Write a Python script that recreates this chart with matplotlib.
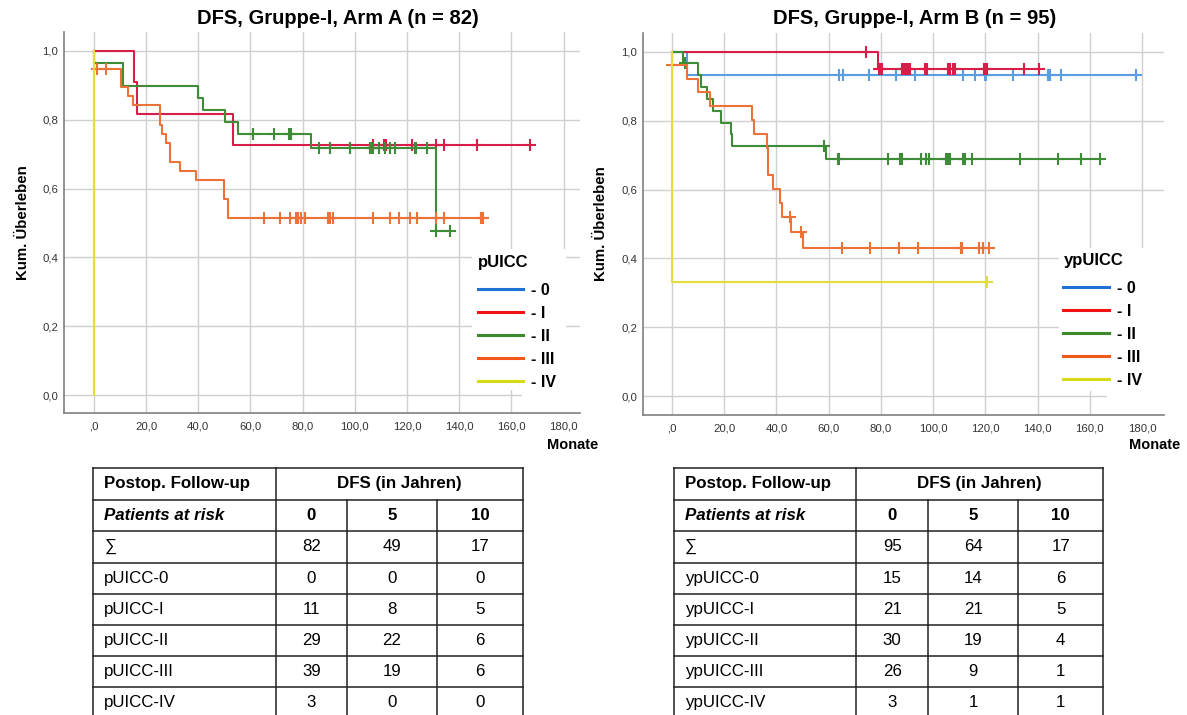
import numpy as np
import matplotlib
matplotlib.use("Agg")
import matplotlib.pyplot as plt
from matplotlib.lines import Line2D
from matplotlib.patches import Rectangle

plt.rcParams['font.family'] = ['Liberation Sans', 'DejaVu Sans']

W, H, DPI = 1187, 715, 100

# ---------------- data ----------------
stage_labels = ["- 0", "- I", "- II", "- III", "- IV"]
curve_colors = ["#5b9de3", "#d81d48", "#3f8c38", "#ec7238", "#e4dd3c"]
legend_colors = ["#1f72d4", "#f21414", "#3b8a2c", "#f2581a", "#d6da14"]

x_ticks = [0, 20, 40, 60, 80, 100, 120, 140, 160, 180]
x_tick_labels = [",0", "20,0", "40,0", "60,0", "80,0", "100,0", "120,0",
                 "140,0", "160,0", "180,0"]
y_ticks = [0.0, 0.2, 0.4, 0.6, 0.8, 1.0]
y_tick_labels = ["0,0", "0,2", "0,4", "0,6", "0,8", "1,0"]

# Arm A (pUICC): step times (months), survival after each step, censoring times
a0_t, a0_s, a0_c = [], [], []
a1_t = [15.4, 16.6, 53.5]
a1_s = [0.909, 0.818, 0.727]
a1_c = [106.8, 111.2, 111.8, 121.8, 131.0, 134.0, 146.8, 167.1]
a2_t = [0.0, 11.0, 39.9, 41.8, 50.3, 55.3, 83.1, 131.0]
a2_s = [0.966, 0.897, 0.862, 0.828, 0.793, 0.759, 0.717, 0.478]
a2_c = [61.0, 69.2, 74.9, 75.5, 86.3, 90.3, 98.1, 105.7, 106.4, 107.0, 109.2,
        111.5, 113.4, 115.5, 122.9, 123.6, 127.8, 131.2, 136.6]
a3_t = [0.0, 10.5, 13.2, 15.1, 25.3, 26.3, 27.6, 29.1, 33.0, 39.3, 49.8, 51.5]
a3_s = [0.949, 0.896, 0.870, 0.843, 0.786, 0.759, 0.732, 0.678, 0.651, 0.624,
        0.569, 0.515]
a3_c = [1.3, 4.6, 65.1, 71.3, 75.1, 77.4, 78.3, 79.2, 81.0, 89.6, 90.3, 91.8,
        106.8, 113.4, 116.8, 121.0, 123.8, 131.0, 134.0, 148.3, 148.9]
a4_t = [0.0]
a4_s = [0.0]
a4_c = []

# Arm B (ypUICC)
b0_t = [5.8]
b0_s = [0.933]
b0_c = [64.0, 65.3, 75.5, 85.6, 93.2, 111.4, 115.9, 120.0, 120.4, 130.6, 144.0,
        144.6, 149.1, 177.8]
b1_t = [78.8]
b1_s = [0.950]
b1_c = [74.3, 79.2, 79.8, 80.5, 88.0, 88.7, 89.6, 90.3, 91.2, 96.7, 97.6, 105.7,
        106.6, 107.6, 108.5, 119.5, 120.0, 120.5, 134.9, 140.4]
b2_t = [4.4, 10.1, 11.1, 13.3, 15.8, 18.6, 22.5, 22.9, 59.0]
b2_s = [0.967, 0.932, 0.898, 0.863, 0.829, 0.794, 0.760, 0.725, 0.689]
b2_c = [5.1, 58.2, 63.4, 64.0, 82.9, 87.4, 88.0, 95.5, 97.4, 98.3, 105.0, 105.5,
        106.0, 106.6, 111.4, 112.3, 114.9, 133.1, 147.7, 156.6, 163.8]
b3_t = [0.0, 5.6, 9.8, 14.7, 30.6, 31.3, 36.3, 36.9, 38.8, 41.4, 42.0, 45.6, 50.3]
b3_s = [0.962, 0.921, 0.882, 0.841, 0.801, 0.761, 0.721, 0.641, 0.601, 0.561,
        0.521, 0.478, 0.430]
b3_c = [0.0, 45.2, 49.3, 65.2, 76.0, 86.8, 94.4, 110.5, 111.2, 117.4, 119.2, 121.3]
b4_t = [0.0]
b4_s = [0.333]
b4_c = [120.8]

# Patients-at-risk tables
table_head = ["Postop. Follow-up", "DFS (in Jahren)"]
risk_head = ["Patients at risk", "0", "5", "10"]
rows_A = ["\u2211", "pUICC-0", "pUICC-I", "pUICC-II", "pUICC-III", "pUICC-IV"]
vals_A = [[82, 49, 17], [0, 0, 0], [11, 8, 5], [29, 22, 6], [39, 19, 6], [3, 0, 0]]
rows_B = ["\u2211", "ypUICC-0", "ypUICC-I", "ypUICC-II", "ypUICC-III", "ypUICC-IV"]
vals_B = [[95, 64, 17], [15, 14, 6], [21, 21, 5], [30, 19, 4], [26, 9, 1], [3, 1, 1]]

# ---------------- figure ----------------
fig = plt.figure(figsize=(W / DPI, H / DPI), dpi=DPI)
fig.patch.set_facecolor("white")


def px_rect(x0, y0, x1, y1):
    return [x0 / W, 1 - y1 / H, (x1 - x0) / W, (y1 - y0) / H]


def km_draw(ax, t, s, c, color):
    t = np.asarray(t, float)
    s = np.asarray(s, float)
    c = np.asarray(c, float)
    if t.size == 0 and c.size == 0:
        return
    end = max(t.max() if t.size else 0.0, c.max() if c.size else 0.0)
    x = np.concatenate([[0.0], t, [end]])
    y = np.concatenate([[1.0], s, [s[-1] if s.size else 1.0]])
    ax.plot(x, y, drawstyle="steps-post", color=color, lw=1.5, zorder=2)
    if c.size:
        levels = np.concatenate([[1.0], s])[np.searchsorted(t, c, side="right")]
        ax.plot(c, levels, ls="none", marker="+", ms=8, mew=1.5, color=color,
                zorder=2)


def style_axes(ax, xlim, ylim):
    ax.set_xlim(*xlim)
    ax.set_ylim(*ylim)
    ax.set_xticks(x_ticks)
    ax.set_xticklabels(x_tick_labels)
    ax.set_yticks(y_ticks)
    ax.set_yticklabels(y_tick_labels)
    ax.tick_params(length=0, labelsize=8.2, colors="#333333")
    ax.tick_params(axis="x", pad=6)
    ax.tick_params(axis="y", pad=4)
    ax.grid(True, color="#d0d0d0", lw=1.0)
    ax.set_axisbelow(True)
    for side in ("top", "right"):
        ax.spines[side].set_visible(False)
    for side in ("left", "bottom"):
        ax.spines[side].set_color("#808080")
        ax.spines[side].set_linewidth(1.2)
    ax.set_ylabel("Kum. \u00dcberleben", fontsize=10.8, fontweight="bold")
    ax.yaxis.set_label_coords(-0.066, 0.5)


def add_legend(ax, title, anchor, boxes):
    for (x0, x1, y0, y1) in boxes:
        ax.add_patch(Rectangle((x0, y0), x1 - x0, y1 - y0, facecolor="white",
                               edgecolor="none", zorder=1))
    handles = [Line2D([], [], color=c, lw=2.2) for c in legend_colors]
    leg = ax.legend(handles, stage_labels, title=title, loc="upper left",
                    bbox_to_anchor=anchor, frameon=False, borderpad=0,
                    borderaxespad=0, handlelength=2.85, handletextpad=0.5,
                    labelspacing=0.5, alignment="left",
                    prop={"weight": "bold", "size": 11.5},
                    title_fontproperties={"weight": "bold", "size": 12})
    # a little more room between the legend title and the first entry
    leg._legend_box.sep = 9.4
    return leg


axA = fig.add_axes(px_rect(64, 32, 580, 413))
axB = fig.add_axes(px_rect(642.5, 33, 1163.5, 415))

style_axes(axA, (-11.41, 186.24), (-0.0523, 1.0552))
style_axes(axB, (-11.30, 188.23), (-0.0543, 1.0543))

arm_A = [(a0_t, a0_s, a0_c), (a1_t, a1_s, a1_c), (a2_t, a2_s, a2_c),
         (a3_t, a3_s, a3_c), (a4_t, a4_s, a4_c)]
arm_B = [(b0_t, b0_s, b0_c), (b1_t, b1_s, b1_c), (b2_t, b2_s, b2_c),
         (b3_t, b3_s, b3_c), (b4_t, b4_s, b4_c)]
for (t, s, c), col in zip(arm_A, curve_colors):
    km_draw(axA, t, s, c, col)
for (t, s, c), col in zip(arm_B, curve_colors):
    km_draw(axB, t, s, c, col)

add_legend(axA, "pUICC", (0.802, 0.415),
           [(145.0, 181.0, 0.015, 0.425), (164.0, 186.24, -0.0523, 0.015)])
add_legend(axB, "ypUICC", (0.808, 0.424),
           [(148.2, 188.23, 0.015, 0.43), (166.6, 188.23, -0.0543, 0.015)])

fig.text(337.5 / W, 1 - 18 / H, "DFS, Gruppe-I, Arm A (n = 82)", ha="center",
         va="center", fontsize=14.5, fontweight="bold")
fig.text(914.5 / W, 1 - 18 / H, "DFS, Gruppe-I, Arm B (n = 95)", ha="center",
         va="center", fontsize=14.5, fontweight="bold")
fig.text(573 / W, 1 - 445 / H, "Monate", ha="center", va="center",
         fontsize=10.5, fontweight="bold")
fig.text(1155 / W, 1 - 445 / H, "Monate", ha="center", va="center",
         fontsize=10.5, fontweight="bold")

# ---------------- tables ----------------
tab = fig.add_axes([0, 0, 1, 1], zorder=-1)
tab.set_xlim(0, W)
tab.set_ylim(H, 0)
tab.axis("off")

row_edges = [468, 499.5, 531, 562.5, 593.7, 624.7, 656, 687.3, 718.6]
TFS = 12.2
LINE = dict(color="#202020", lw=1.1)


def draw_table(cols, labels, values):
    x_left, x_split, x_c1, x_c2, x_right = cols
    for y in row_edges[:-1]:
        tab.plot([x_left, x_right], [y, y], **LINE)
    ybot = row_edges[-1]
    for x in (x_left, x_split, x_right):
        tab.plot([x, x], [row_edges[0], ybot], **LINE)
    for x in (x_c1, x_c2):
        tab.plot([x, x], [row_edges[1], ybot], **LINE)
    centers = [(row_edges[i] + row_edges[i + 1]) / 2 for i in range(len(row_edges) - 1)]
    num_x = [(x_split + x_c1) / 2, (x_c1 + x_c2) / 2, (x_c2 + x_right) / 2]
    tx = x_left + 11
    tab.text(tx, centers[0], table_head[0], ha="left", va="center",
             fontsize=TFS, fontweight="bold")
    tab.text((x_split + x_right) / 2, centers[0], table_head[1], ha="center",
             va="center", fontsize=TFS, fontweight="bold")
    tab.text(tx, centers[1], risk_head[0], ha="left", va="center",
             fontsize=TFS, fontweight="bold", fontstyle="italic")
    for xc, lab in zip(num_x, risk_head[1:]):
        tab.text(xc, centers[1], lab, ha="center", va="center", fontsize=TFS,
                 fontweight="bold")
    for i, (lab, vals) in enumerate(zip(labels, values)):
        yc = centers[2 + i]
        tab.text(tx, yc, lab, ha="left", va="center", fontsize=TFS)
        for xc, v in zip(num_x, vals):
            tab.text(xc, yc, str(v), ha="center", va="center", fontsize=TFS)


draw_table([93.3, 276, 346.7, 437.3, 522.7], rows_A, vals_A)
draw_table([674, 856, 928.3, 1018.3, 1103.3], rows_B, vals_B)

fig.savefig("out.png", dpi=DPI)
